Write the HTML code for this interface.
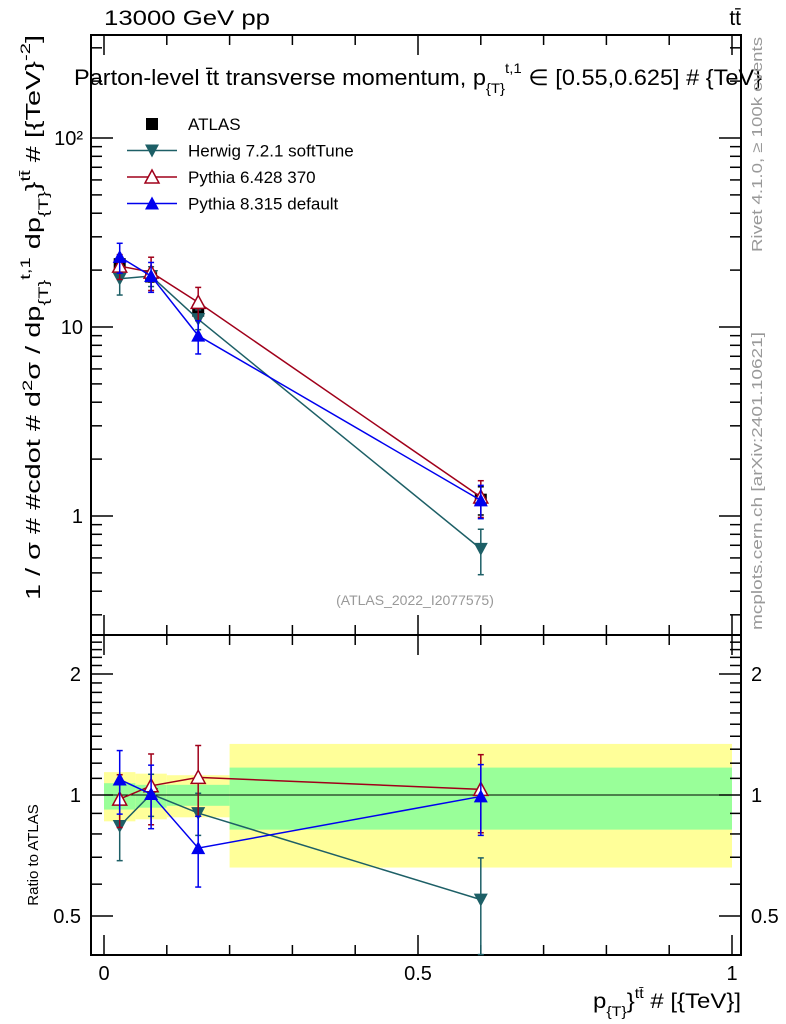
<!DOCTYPE html>
<html><head><meta charset="utf-8"><style>
body{margin:0;background:#fff;}
svg{display:block;font-family:"Liberation Sans",sans-serif;}
</style></head><body>
<svg id="c" width="786" height="1024" xmlns="http://www.w3.org/2000/svg">
<text x="104" y="25" font-size="21" textLength="166" lengthAdjust="spacingAndGlyphs">13000 GeV pp</text>
<text x="741" y="25" font-size="21" text-anchor="end">tt̄</text>
<text x="74" y="85" font-size="22" textLength="688" lengthAdjust="spacingAndGlyphs">Parton-level t̄t transverse momentum, p<tspan font-size="14" dy="8">{T}</tspan><tspan font-size="14" dy="-20">t,1</tspan><tspan dy="12"> ∈ [0.55,0.625] # {TeV}</tspan></text>
<text transform="translate(762,252) rotate(-90)" font-size="15" fill="#999" textLength="215" lengthAdjust="spacingAndGlyphs">Rivet 4.1.0, ≥ 100k events</text>
<text transform="translate(762,630) rotate(-90)" font-size="15" fill="#999" textLength="298" lengthAdjust="spacingAndGlyphs">mcplots.cern.ch [arXiv:2401.10621]</text>
<text x="415" y="605" font-size="14" fill="#999" text-anchor="middle">(ATLAS_2022_I2077575)</text>
<text transform="translate(40,600) rotate(-90)" font-size="20" textLength="565" lengthAdjust="spacingAndGlyphs">1 / σ # #cdot # d<tspan font-size="14" dy="-8">2</tspan><tspan dy="8">σ / dp</tspan><tspan font-size="14" dy="8">{T}</tspan><tspan font-size="14" dy="-18">t,1</tspan><tspan dy="10"> dp</tspan><tspan font-size="14" dy="8">{T}</tspan><tspan dy="-8">}</tspan><tspan font-size="14" dy="-10">tt̄</tspan><tspan dy="10"> # [{TeV}</tspan><tspan font-size="14" dy="-10">-2</tspan><tspan dy="10">]</tspan></text>
<text transform="translate(38,855) rotate(-90)" font-size="15" text-anchor="middle">Ratio to ATLAS</text>
<text x="741" y="1008" font-size="21" text-anchor="end" textLength="148" lengthAdjust="spacingAndGlyphs">p<tspan font-size="14" dy="8">{T}</tspan><tspan dy="-8">}</tspan><tspan font-size="14" dy="-10">tt̄</tspan><tspan dy="10"> # [{TeV}]</tspan></text>
<g id="g"></g>
</svg>
<script>
const xCenters=[0.025,0.075,0.15,0.6];
const binEdges=[0,0.05,0.1,0.2,1.0];
const atlas=[21.5,18.5,12.2,1.22];
const bandYellowLo=[0.86,0.87,0.88,0.66];
const bandYellowHi=[1.14,1.13,1.12,1.34];
const bandGreenLo=[0.92,0.93,0.94,0.82];
const bandGreenHi=[1.07,1.06,1.06,1.17];
const herwig=[18.0,18.6,11.0,0.67];
const herwigErr=[0.18,0.12,0.12,0.27];
const py6=[21.0,19.5,13.5,1.26];
const py6Err=[0.15,0.2,0.2,0.22];
const py8=[23.5,18.6,9.0,1.21];
const py8Err=[0.18,0.18,0.2,0.2];
const atlasErr=[0.07,0.065,0.06,0.17];
const mainTicks=[1,10,100];
const mainTickLabels=["1","10","10²"];
const ratioTicks=[0.5,1,2];
const xTicks=[0,0.5,1];

const L=91,R=741,T=35,MB=635,RB=955;
const X=v=>104+v*628;
const Ym=v=>516-189*Math.log10(v);
const Yr=v=>795-121*Math.log2(v);
const g=document.getElementById('g');
const NS='http://www.w3.org/2000/svg';
function el(t,a,name){const e=document.createElementNS(NS,t);for(const k in a)e.setAttribute(k,a[k]);


g.appendChild(e);return e;}
for(let i=0;i<4;i++){
 el('rect',{x:X(binEdges[i]),y:Yr(bandYellowHi[i]),width:X(binEdges[i+1])-X(binEdges[i]),height:Yr(bandYellowLo[i])-Yr(bandYellowHi[i]),fill:'#ffff99'},'yellow-band');
 el('rect',{x:X(binEdges[i]),y:Yr(bandGreenHi[i]),width:X(binEdges[i+1])-X(binEdges[i]),height:Yr(bandGreenLo[i])-Yr(bandGreenHi[i]),fill:'#99ff99'},'green-band');
}
el('line',{x1:L,x2:R,y1:Yr(1),y2:Yr(1),stroke:'#000','stroke-width':1},'ratio-unity-line');
el('rect',{x:L,y:T,width:R-L,height:MB-T,fill:'none',stroke:'#000','stroke-width':2},'main-frame');
el('rect',{x:L,y:MB,width:R-L,height:RB-MB,fill:'none',stroke:'#000','stroke-width':2},'ratio-frame');
for(let d=-1;d<=2;d++)for(let m=1;m<10;m++){const v=m*Math.pow(10,d);const y=Ym(v);if(y<T||y>MB)continue;const len=m==1?22:11;
 el('line',{x1:L,x2:L+len,y1:y,y2:y,stroke:'#000','stroke-width':1.5},'y-tick');
 el('line',{x1:R,x2:R-len,y1:y,y2:y,stroke:'#000','stroke-width':1.5},'y-tick');}
mainTicks.forEach((v,i)=>{const t=el('text',{x:L-8,y:Ym(v)+7,'font-size':20,'text-anchor':'end'},'y-tick-label');t.textContent=mainTickLabels[i];});
for(let v=0.3;v<=2.5;v+=0.1){const y=Yr(v);if(y<MB||y>RB)continue;const major=[0.5,1,2].some(q=>Math.abs(q-v)<1e-6);
 el('line',{x1:L,x2:L+(major?22:11),y1:y,y2:y,stroke:'#000','stroke-width':1.5},'ratio-tick');
 el('line',{x1:R,x2:R-(major?22:11),y1:y,y2:y,stroke:'#000','stroke-width':1.5},'ratio-tick');}
ratioTicks.forEach(v=>{const t=el('text',{x:L-10,y:Yr(v)+7,'font-size':20,'text-anchor':'end'},'ratio-tick-label');t.textContent=String(v);
 const t2=el('text',{x:R+10,y:Yr(v)+7,'font-size':20},'ratio-tick-label');t2.textContent=String(v);});
for(let k=0;k<=10;k++){const v=k/10,x=X(v),len=k%5==0?20:10;
 [[MB,-1],[T,1],[RB,-1],[MB,1]].forEach(([y0,s])=>el('line',{x1:x,x2:x,y1:y0,y2:y0+s*len,stroke:'#000','stroke-width':1.5},'x-tick'));}
xTicks.forEach(v=>{const t=el('text',{x:X(v),y:980,'font-size':20,'text-anchor':'middle'},'x-tick-label');t.textContent=String(v);});
function marker(type,x,y,col,name){
 if(type=='sq')el('rect',{x:x-6,y:y-6,width:12,height:12,fill:col},name);
 else if(type=='down')el('polygon',{points:`${x-7},${y-6} ${x+7},${y-6} ${x},${y+7}`,fill:col},name);
 else if(type=='upo')el('polygon',{points:`${x-7},${y+6} ${x+7},${y+6} ${x},${y-7}`,fill:'#fff',stroke:col,'stroke-width':1.5},name);
 else el('polygon',{points:`${x-7},${y+6} ${x+7},${y+6} ${x},${y-7}`,fill:col},name);}
function series(vals,errs,col,type,name,ratio){
 const Y=ratio?Yr:Ym;const vv=vals.map((v,i)=>ratio?v/atlas[i]:v);
 if(type!='sq')el('polyline',{points:vv.map((v,i)=>X(xCenters[i])+','+Y(v)).join(' '),fill:'none',stroke:col,'stroke-width':1.5},name+'-line');
 vv.forEach((v,i)=>{const x=X(xCenters[i]),lo=Y(v*(1-errs[i])),hi=Y(v*(1+errs[i]));
  el('line',{x1:x,x2:x,y1:lo,y2:hi,stroke:col,'stroke-width':1.5},name+'-errorbar');
  el('line',{x1:x-3,x2:x+3,y1:lo,y2:lo,stroke:col,'stroke-width':1.5},name+'-errorcap');
  el('line',{x1:x-3,x2:x+3,y1:hi,y2:hi,stroke:col,'stroke-width':1.5},name+'-errorcap');
  marker(type,x,Y(v),col,name+'-point');});}
series(atlas,atlasErr,'#000','sq','atlas',false);
series(herwig,herwigErr,'#1d5f66','down','herwig',false);
series(py6,py6Err,'#a0001a','upo','pythia6',false);
series(py8,py8Err,'#0000ee','up','pythia8',false);
series(herwig,herwigErr,'#1d5f66','down','herwig-ratio',true);
series(py6,py6Err,'#a0001a','upo','pythia6-ratio',true);
series(py8,py8Err,'#0000ee','up','pythia8-ratio',true);
const leg=[['ATLAS','#000','sq'],['Herwig 7.2.1 softTune','#1d5f66','down'],['Pythia 6.428 370','#a0001a','upo'],['Pythia 8.315 default','#0000ee','up']];
leg.forEach((l,i)=>{const y=124+i*26.5;
 if(l[2]!='sq')el('line',{x1:127,x2:177,y1:y,y2:y,stroke:l[1],'stroke-width':1.5},'legend-line');
 marker(l[2],152,y,l[1],'legend-marker');
 const t=el('text',{x:188,y:y+6,'font-size':17},'legend-entry');t.textContent=l[0];});
</script>
</body></html>
